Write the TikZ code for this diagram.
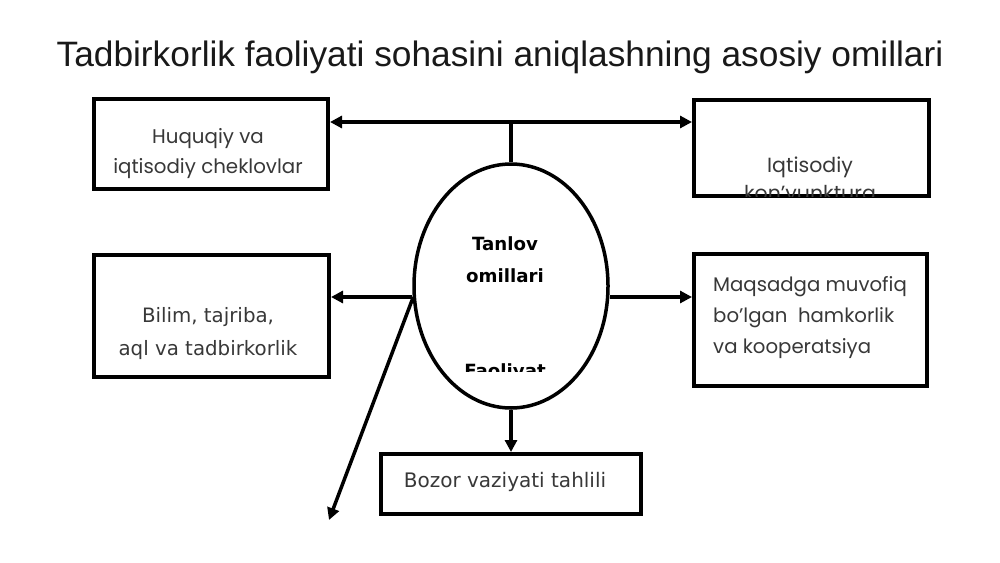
\documentclass[tikz,border=0pt]{standalone}
\usepackage{fontspec}
\setmainfont{Liberation Sans}
\newfontfamily\geo{Poppins}
\newfontfamily\dv{DejaVu Sans}
\usetikzlibrary{shapes.geometric,arrows.meta}
\begin{document}
\begin{tikzpicture}[x=1pt,y=-1pt,
  box/.style={draw=black, line width=4pt, inner sep=0pt},
  lbl/.style={anchor=base, inner sep=0pt, text=black!78, align=center},
  conn/.style={line width=3.5pt, -{Triangle[length=12pt,width=12pt]}},
  plain/.style={line width=3.5pt}]
\useasboundingbox (0,0) rectangle (1000,562);
\fill[white] (0,0) rectangle (1000,562);
\node[font=\fontsize{35.3}{40}\selectfont, text=black!90] (title) at (500,57) {Tadbirkorlik faoliyati sohasini aniqlashning asosiy omillari};
% boxes
\node[box, minimum width=234pt, minimum height=90pt] (b1) at (211,144) {};
\node[box, minimum width=235pt, minimum height=96pt] (b2) at (811.5,148) {};
\node[box, minimum width=235pt, minimum height=122pt] (b3) at (211.5,316) {};
\node[box, minimum width=233pt, minimum height=132pt] (b4) at (810.5,320) {};
\node[box, minimum width=260pt, minimum height=60pt] (b5) at (511,484) {};
\node[draw=black, line width=3.5pt, ellipse, minimum width=194pt, minimum height=244pt, inner sep=0pt] (ell) at (511,286) {};
% texts
\node[lbl, font=\geo\fontsize{19.8}{30}\selectfont] (t1) at (208,173) {Huquqiy va\\iqtisodiy cheklovlar};
\begin{scope}
\clip (b2.north west) ++(2,2) rectangle ([xshift=-2pt,yshift=2pt]b2.south east);
\node[lbl, font=\geo\fontsize{20.5}{28}\selectfont] (t2) at (810,200) {Iqtisodiy\\kon’yunktura};
\end{scope}
\node[lbl, font=\dv\fontsize{19.8}{33}\selectfont] (t3) at (208,355) {Bilim, tajriba,\\aql va tadbirkorlik};
\node[lbl, anchor=base west, align=left, font=\geo\fontsize{19.7}{31}\selectfont] (t4) at (713,353) {Maqsadga muvofiq\\bo’lgan\ \ hamkorlik\\va kooperatsiya};
\node[lbl, font=\dv\fontsize{20}{24}\selectfont] (t5) at (505,487) {Bozor vaziyati tahlili};
\node[lbl, text=black, font=\dv\bfseries\fontsize{18.2}{32}\selectfont] (t6) at (505,282) {Tanlov\\omillari};
\begin{scope}
\clip (400,300) rectangle (620,371);
\node[lbl, text=black, font=\dv\bfseries\fontsize{18.2}{22}\selectfont] (t7) at (505,377) {Faoliyat};
\end{scope}
% connectors
\coordinate (top) at (511,122);
\coordinate (mid) at (511,297);
\coordinate (free) at (329,520);
\draw[plain, {Triangle[length=12pt,width=12pt]}-{Triangle[length=12pt,width=12pt]}] (b1.east |- top) -- (b2.west |- top);
\draw[plain] (top) -- (ell.north);
\draw[conn] (ell.west |- mid) -- (b3.east |- mid);
\draw[conn] (ell.east |- mid) -- (b4.west |- mid);
\draw[conn] (ell.south) -- (b5.north);
\draw[conn] ([xshift=1pt]ell.west |- mid) -- (free);
\end{tikzpicture}
\end{document}
